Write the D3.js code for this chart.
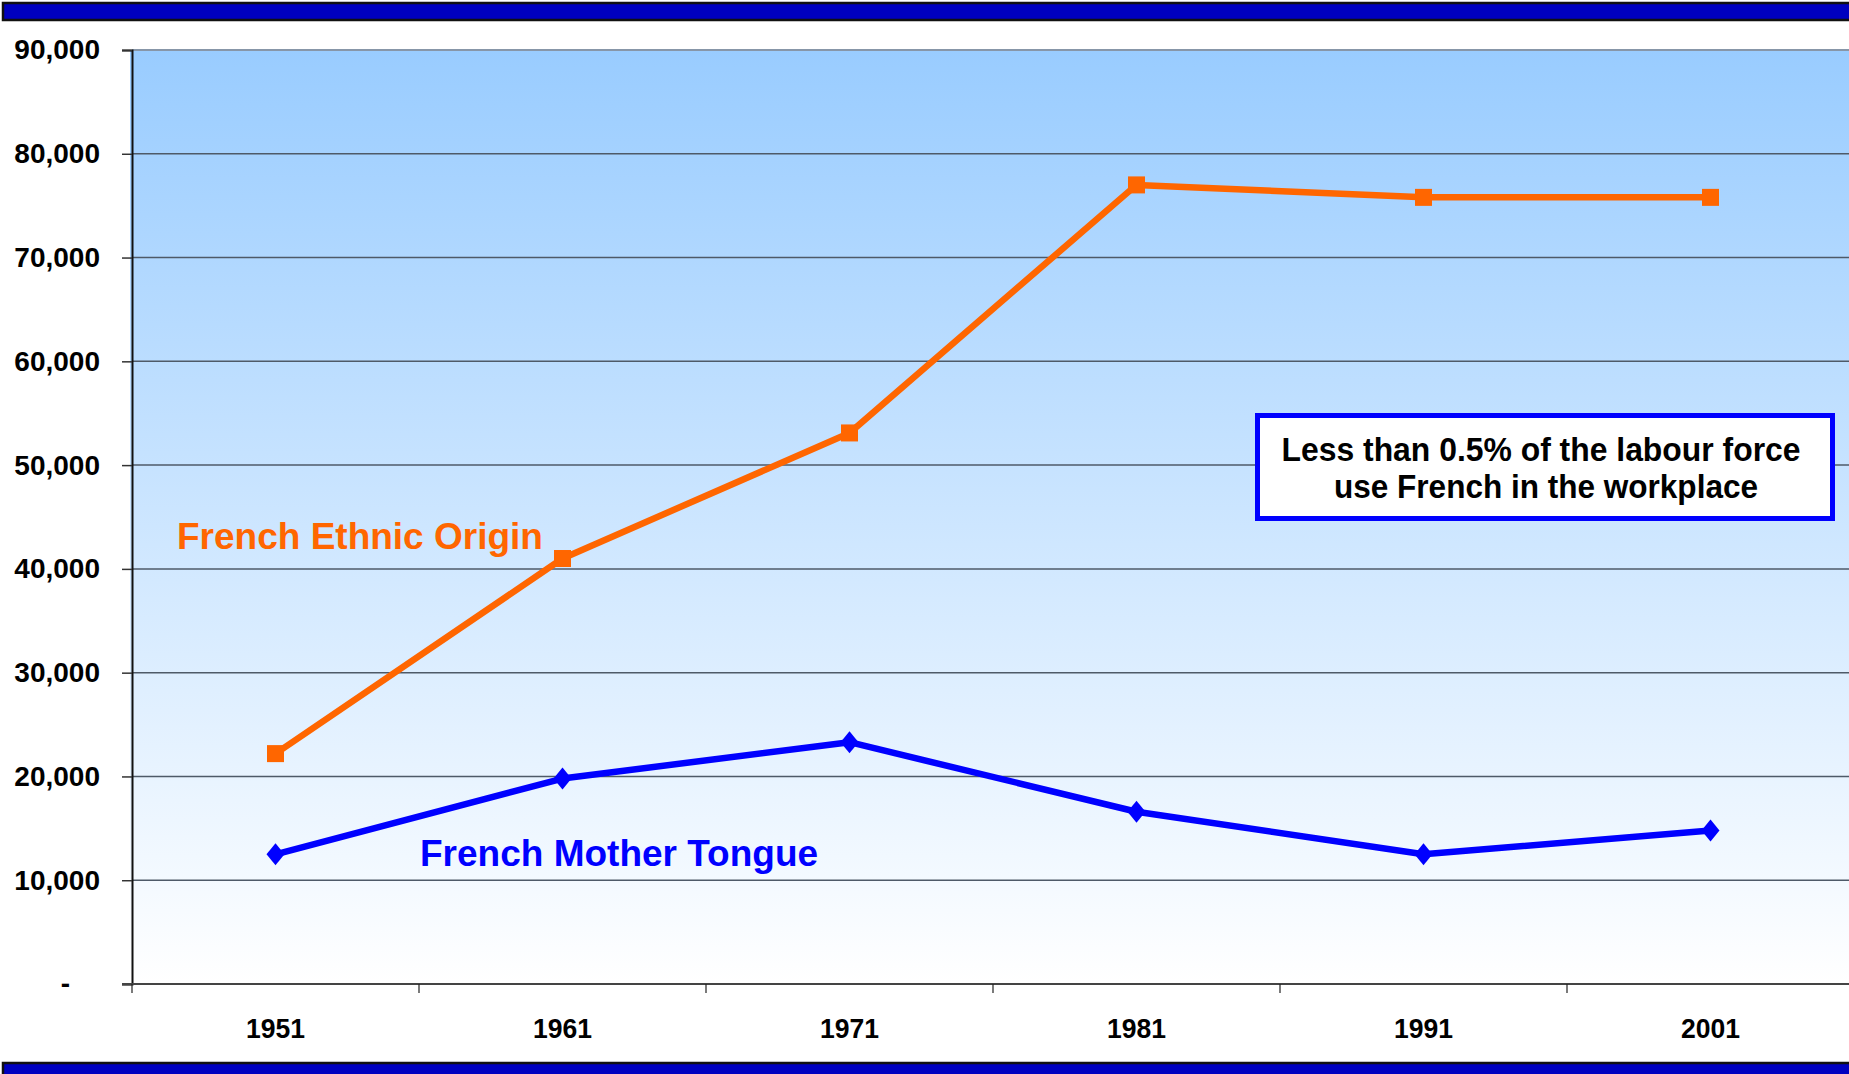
<!DOCTYPE html>
<html>
<head>
<meta charset="utf-8">
<script src="https://cdn.jsdelivr.net/npm/d3@7"></script>
<style>
  html, body { margin: 0; padding: 0; background: #ffffff; }
  svg { display: block; }
  text { font-family: "Liberation Sans", Arial, Helvetica, sans-serif; font-weight: bold; }
</style>
</head>
<body>
<svg id="chart" width="1849" height="1074"></svg>
<script>
// Census years on the category axis
const years = ["1951", "1961", "1971", "1981", "1991", "2001"];
// Population of French ethnic origin
const ethnicOrigin = [22200, 41000, 53100, 77000, 75800, 75800];
// Population with French as mother tongue
const motherTongue = [12500, 19800, 23300, 16600, 12500, 14800];
// Value axis ticks
const yTicks = [0, 10000, 20000, 30000, 40000, 50000, 60000, 70000, 80000, 90000];
// Series captions and the note box text
const seriesNames = ["French Ethnic Origin", "French Mother Tongue"];
const noteLines = ["Less than 0.5% of the labour force", "use French in the workplace"];

const W = 1849, H = 1074;
const plotLeft = 132, plotTop = 50, plotBottom = 984, bandW = 287;
const svg = d3.select("#chart");

const x = d3.scaleBand().domain(years).range([plotLeft, plotLeft + bandW * years.length]).padding(0);
const y = d3.scaleLinear().domain([0, 90000]).range([plotBottom, plotTop]);

// Header and footer bars
svg.append("rect").attr("x", 3).attr("y", 3).attr("width", W).attr("height", 17)
  .attr("fill", "#0000c0").attr("stroke", "#111").attr("stroke-width", 2.5);
svg.append("rect").attr("x", 3).attr("y", 1063).attr("width", W).attr("height", 20)
  .attr("fill", "#0000c0").attr("stroke", "#111").attr("stroke-width", 2.5);

// Plot area gradient
const defs = svg.append("defs");
const grad = defs.append("linearGradient").attr("id", "bg").attr("x1", 0).attr("y1", 0).attr("x2", 0).attr("y2", 1);
grad.append("stop").attr("offset", "0%").attr("stop-color", "#99ccff");
grad.append("stop").attr("offset", "100%").attr("stop-color", "#ffffff");
svg.append("rect").attr("x", plotLeft - 2).attr("y", plotTop).attr("width", W - plotLeft + 2).attr("height", plotBottom - plotTop)
  .attr("fill", "url(#bg)");

// Horizontal gridlines
svg.append("g").selectAll("line")
  .data(yTicks.filter(d => d > 0))
  .join("line")
  .attr("x1", plotLeft).attr("x2", W)
  .attr("y1", d => y(d)).attr("y2", d => y(d))
  .attr("stroke", d => d === 90000 ? "#8796a8" : "#4e5a68")
  .attr("stroke-width", d => d === 90000 ? 2 : 1.5);

// Value axis
const yAxis = svg.append("g").attr("transform", `translate(${plotLeft},0)`)
  .call(d3.axisLeft(y).tickValues(yTicks).tickSize(10).tickPadding(22)
    .tickFormat(d => d === 0 ? "-" : d3.format(",")(d)));
yAxis.select(".domain").attr("stroke", "#111").attr("stroke-width", 2);
yAxis.selectAll(".tick line").attr("stroke", "#333").attr("stroke-width", 1.5);
yAxis.selectAll(".tick text").attr("fill", "#000").attr("font-size", 28)
  .attr("font-family", "'Liberation Sans', Arial, sans-serif").attr("font-weight", "bold")
  .attr("x", d => d === 0 ? -62 : -32);

// Category axis line, boundary ticks and labels
svg.append("line").attr("x1", plotLeft - 10).attr("x2", W).attr("y1", plotBottom).attr("y2", plotBottom)
  .attr("stroke", "#444").attr("stroke-width", 2);
svg.append("g").selectAll("line")
  .data(years)
  .join("line")
  .attr("x1", d => x(d)).attr("x2", d => x(d))
  .attr("y1", plotBottom).attr("y2", plotBottom + 9)
  .attr("stroke", "#222").attr("stroke-width", 1.2);
svg.append("g").selectAll("text")
  .data(years)
  .join("text")
  .attr("x", d => x(d) + x.bandwidth() / 2)
  .attr("y", 1038)
  .attr("text-anchor", "middle")
  .attr("font-size", 28)
  .attr("textLength", 59).attr("lengthAdjust", "spacingAndGlyphs")
  .attr("fill", "#000")
  .text(d => d);

// Series lines and markers
const cx = d => x(d) + x.bandwidth() / 2;
const line = d3.line().x(d => cx(d.year)).y(d => y(d.value));
const ethnicPts = years.map((yr, i) => ({ year: yr, value: ethnicOrigin[i] }));
const tonguePts = years.map((yr, i) => ({ year: yr, value: motherTongue[i] }));

svg.append("path").datum(ethnicPts).attr("d", line)
  .attr("fill", "none").attr("stroke", "#ff6600").attr("stroke-width", 6.5).attr("stroke-linejoin", "round");
svg.append("g").selectAll("rect")
  .data(ethnicPts)
  .join("rect")
  .attr("x", d => cx(d.year) - 8.5).attr("y", d => y(d.value) - 8.5)
  .attr("width", 17).attr("height", 17)
  .attr("fill", "#ff6600");

svg.append("path").datum(tonguePts).attr("d", line)
  .attr("fill", "none").attr("stroke", "#0000ff").attr("stroke-width", 6.5).attr("stroke-linejoin", "round");
svg.append("g").selectAll("path")
  .data(tonguePts)
  .join("path")
  .attr("transform", d => `translate(${cx(d.year)},${y(d.value)})`)
  .attr("d", "M0,-11L9,0L0,11L-9,0Z")
  .attr("fill", "#0000ff");

// Series captions
svg.append("text").attr("x", 177).attr("y", 549)
  .attr("font-size", 37).attr("fill", "#ff6600").text(seriesNames[0]);
svg.append("text").attr("x", 420).attr("y", 866)
  .attr("font-size", 37).attr("fill", "#0000ff").text(seriesNames[1]);

// Note box
svg.append("rect").attr("x", 1257.5).attr("y", 415.5).attr("width", 575).attr("height", 103)
  .attr("fill", "#ffffff").attr("stroke", "#0000ff").attr("stroke-width", 5);
const noteWidths = [519, 424];
svg.append("g").selectAll("text")
  .data(noteLines)
  .join("text")
  .attr("x", (d, i) => i === 0 ? 1541 : 1546)
  .attr("y", (d, i) => 461 + i * 37)
  .attr("text-anchor", "middle")
  .attr("font-size", 34)
  .attr("textLength", (d, i) => noteWidths[i]).attr("lengthAdjust", "spacingAndGlyphs")
  .attr("fill", "#000")
  .text(d => d);
</script>
</body>
</html>
